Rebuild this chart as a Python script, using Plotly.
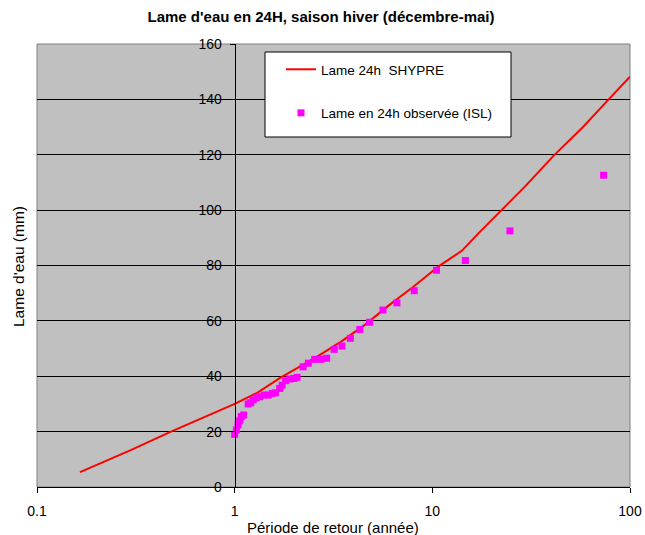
import plotly.graph_objects as go

# SHYPRE curve (return period in years, depth in mm)
shypre_T = [0.165, 0.2, 0.3, 0.47, 0.7, 1.0, 1.3, 1.69, 2.2, 2.7, 3.5, 4.66, 6.0, 8.02, 10.8, 14.1,
            17.1, 22.9, 29.4, 40.9, 58.0, 77.6, 100.0]
shypre_mm = [5.4, 8.0, 13.4, 19.8, 25.3, 30.0, 34.0, 39.3, 44.0, 47.7, 52.8, 59.1, 65.5, 72.3, 79.8, 85.3,
             91.6, 100.6, 108.5, 119.5, 130.1, 139.8, 148.2]

# Observed (ISL)
obs_T = [1.0, 1.02, 1.04, 1.06, 1.08, 1.11, 1.17, 1.205, 1.24, 1.29, 1.34, 1.41, 1.48, 1.55, 1.61,
         1.69, 1.74, 1.81, 1.90, 1.99, 2.07, 2.22, 2.36, 2.54, 2.73, 2.92, 3.19, 3.49, 3.85, 4.30,
         4.81, 5.63, 6.62, 8.1, 10.5, 14.7, 24.7, 73.5]
obs_mm = [19.0, 20.6, 22.4, 23.9, 25.4, 26.0, 30.0, 30.4, 31.4, 32.2, 32.6, 33.2, 33.2, 33.8, 34.0,
          35.6, 36.8, 38.4, 39.0, 39.2, 39.6, 43.4, 44.7, 46.1, 46.1, 46.5, 49.7, 50.9, 53.7, 56.9,
          59.5, 63.9, 66.5, 70.9, 78.3, 81.8, 92.5, 112.6]

x_ticks = [0.1, 1, 10, 100]
x_ticktext = ["0.1", "1", "10", "100"]

FONT = "Liberation Sans, Arial, sans-serif"

# plot area in pixels: left 37, right 630, top 44, bottom 487
PW, PH = 593, 443
def px(x):
    return (x - 37) / PW
def py(y):
    return (487 - y) / PH

fig = go.Figure()
fig.add_trace(go.Scatter(x=shypre_T, y=shypre_mm, mode="lines", name="Lame 24h  SHYPRE",
                         line=dict(color="#FF0000", width=2), legendgroup="a"))
fig.add_trace(go.Scatter(x=obs_T, y=obs_mm, mode="markers", name="Lame en 24h observée (ISL)",
                         marker=dict(color="#FF00FF", symbol="square", size=7, line=dict(width=0)),
                         legendgroup="b"))

fig.update_layout(
    width=645, height=535,
    margin=dict(l=37, r=15, t=44, b=48),
    paper_bgcolor="white",
    plot_bgcolor="#C0C0C0",
    font=dict(family=FONT, size=13, color="black"),
    title=dict(text="<b>Lame d'eau en 24H, saison hiver (décembre-mai)</b>",
               x=px(321), xref="paper", xanchor="center", y=1 - 17 / 535, yanchor="middle",
               font=dict(size=15, family=FONT)),
    showlegend=True,
    legend=dict(x=px(281), y=py(54), xanchor="left", yanchor="top",
                bgcolor="rgba(0,0,0,0)", borderwidth=0,
                font=dict(size=13.5, family=FONT), tracegroupgap=23,
                itemwidth=30),
    xaxis=dict(type="log", range=[-1, 2], tickvals=x_ticks, ticktext=x_ticktext,
               showgrid=False, zeroline=False, showline=True, linecolor="black", linewidth=1,
               ticks="outside", ticklen=5, tickcolor="black", ticklabelstandoff=6,
               tickfont=dict(size=14), automargin=False),
    yaxis=dict(range=[0, 160], dtick=20, anchor="free", position=1 / 3,
               showgrid=True, gridcolor="black", gridwidth=1, zeroline=False,
               showline=True, linecolor="black", linewidth=1, automargin=False,
               ticks="outside", ticklen=5, tickcolor="black", ticklabelstandoff=5,
               tickfont=dict(size=14)),
    shapes=[
        dict(type="rect", xref="paper", yref="paper", x0=0, x1=1, y0=0, y1=1,
             line=dict(color="#808080", width=1), fillcolor="rgba(0,0,0,0)", layer="below"),
        dict(type="rect", xref="paper", yref="paper", x0=px(265), x1=px(511), y0=py(137), y1=py(52),
             line=dict(color="black", width=1), fillcolor="white", layer="above"),
    ],
    annotations=[
        dict(text="Période de retour (année)", xref="paper", yref="paper", x=px(333),
             y=0, yshift=-40, showarrow=False, xanchor="center", yanchor="middle",
             font=dict(size=15, family=FONT)),
        dict(text="Lame d'eau (mm)", xref="paper", yref="paper", x=0, xshift=-19,
             y=py(267), showarrow=False, textangle=-90, xanchor="center", yanchor="middle",
             font=dict(size=15.5, family=FONT)),
    ],
)

fig.write_html("out.html")
